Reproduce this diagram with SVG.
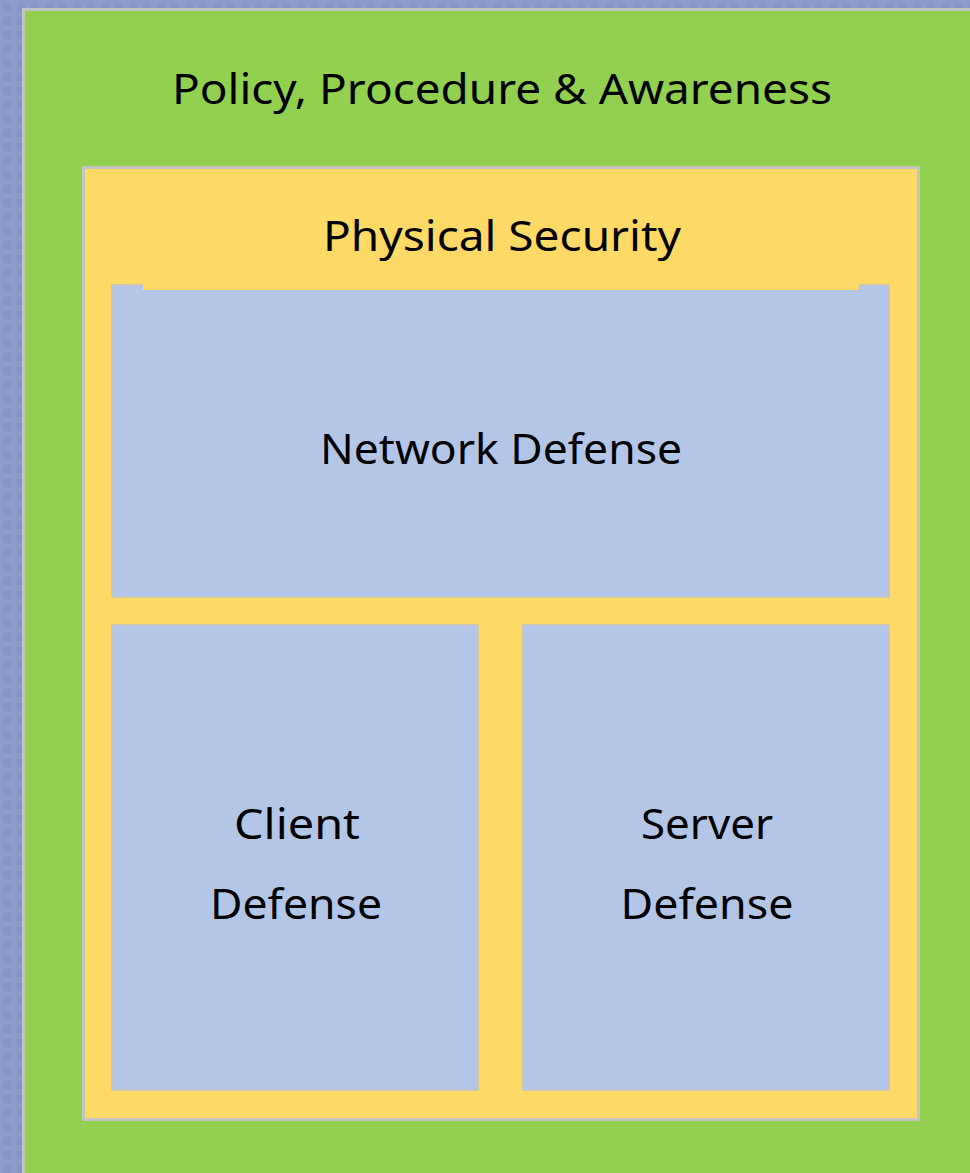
<svg xmlns="http://www.w3.org/2000/svg" width="970" height="1173" viewBox="0 0 970 1173">
  <defs>
    <pattern id="tile" width="14" height="14" patternUnits="userSpaceOnUse">
      <rect width="14" height="14" fill="#8a9cc8"/>
      <rect x="3" y="3" width="8" height="8" fill="#7f91bf" opacity="0.6"/>
    </pattern>
    <style>
      .frame { stroke: #c4c4c4; stroke-width: 3; }
      .box { fill: #b4c6e7; stroke: #c4c4c4; stroke-width: 1.5; }
      .label { font-family: "Noto Sans", "DejaVu Sans", sans-serif; font-size: 41px; fill: #000; text-anchor: middle; }
    </style>
  </defs>

  <!-- backdrop -->
  <rect width="970" height="1173" fill="url(#tile)"/>

  <!-- outer layer: policy -->
  <g id="policy">
    <rect class="frame" x="23.5" y="9.5" width="960" height="1180" fill="#92d050"/>
    <text class="label" x="502" y="104" textLength="660" lengthAdjust="spacingAndGlyphs">Policy, Procedure &amp; Awareness</text>
  </g>

  <!-- physical layer -->
  <g id="physical">
    <rect class="frame" x="83.5" y="167.5" width="835" height="952" fill="#fed966"/>
  </g>

  <!-- network layer -->
  <g id="network">
    <rect class="box" x="112" y="285" width="777" height="312"/>
    <text class="label" x="501" y="464" textLength="362" lengthAdjust="spacingAndGlyphs">Network Defense</text>
  </g>

  <!-- title band of the physical layer, drawn over the network box top -->
  <g id="physical-title">
    <rect x="143" y="169" width="716" height="121" fill="#fed966"/>
    <text class="label" x="502" y="251" textLength="358" lengthAdjust="spacingAndGlyphs">Physical Security</text>
  </g>

  <g id="client">
    <rect class="box" x="112" y="625" width="366" height="465"/>
    <text class="label" x="297" y="839" textLength="126" lengthAdjust="spacingAndGlyphs">Client</text>
    <text class="label" x="296" y="919" textLength="172" lengthAdjust="spacingAndGlyphs">Defense</text>
  </g>

  <g id="server">
    <rect class="box" x="523" y="625" width="366" height="465"/>
    <text class="label" x="707" y="839" textLength="132" lengthAdjust="spacingAndGlyphs">Server</text>
    <text class="label" x="707" y="919" textLength="173" lengthAdjust="spacingAndGlyphs">Defense</text>
  </g>

  <g id="connectors"/>
</svg>
